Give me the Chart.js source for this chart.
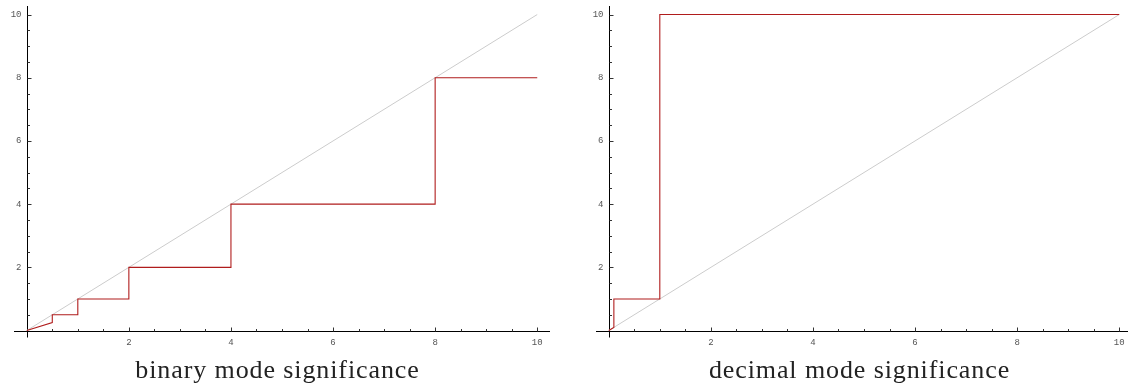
<!DOCTYPE html>
<html>
<head>
<meta charset="utf-8">
<script src="https://cdn.jsdelivr.net/npm/chart.js@4/dist/chart.umd.min.js"></script>
<style>
  html, body { margin: 0; padding: 0; background: #fff; overflow: hidden; }
  body { width: 1128px; height: 387px; position: relative; }
  canvas { position: absolute; top: 0; }
  #leftChart { left: 0; }
  #rightChart { left: 582px; }
  .caption {
    position: absolute; top: 357px; width: 555px; text-align: center;
    font-family: "Liberation Serif", "DejaVu Serif", serif; font-size: 26px;
    letter-spacing: 0.9px; line-height: 26px; color: #222;
  }
</style>
</head>
<body>
<canvas id="leftChart" width="564" height="387"></canvas>
<canvas id="rightChart" width="564" height="387"></canvas>
<div class="caption" style="left:0">binary mode significance</div>
<div class="caption" style="left:582px">decimal mode significance</div>
<script>
// step curves
const binaryX = [0, 0.5, 0.5, 1, 1, 2, 2, 4, 4, 8, 8, 10];
const binaryY = [0, 0.25, 0.5, 0.5, 1, 1, 2, 2, 4, 4, 8, 8];
const decimalX = [0, 0.1, 0.1, 1, 1, 10];
const decimalY = [0, 0.1, 1, 1, 10, 10];
// reference line y = x
const diagonalX = [0, 10];
const diagonalY = [0, 10];
// axis ticks (same on both axes)
const majorTicks = [2, 4, 6, 8, 10];
const minorTicks = [0.5, 1, 1.5, 2, 2.5, 3, 3.5, 4, 4.5, 5, 5.5, 6, 6.5, 7, 7.5, 8, 8.5, 9, 9.5, 10];

const toPoints = (xs, ys) => xs.map((x, i) => ({ x: x, y: ys[i] }));

// Mathematica style axes crossing at the origin, ticks pointing inwards
const originAxes = {
    id: 'originAxes',
    beforeDatasetsDraw(chart) {
        const { ctx, chartArea, scales: { x, y } } = chart;
        const x0 = Math.round(x.getPixelForValue(0)) + 0.5;
        const y0 = Math.round(y.getPixelForValue(0)) + 0.5;
        ctx.save();
        ctx.strokeStyle = '#000';
        ctx.lineWidth = 1;
        ctx.beginPath();
        ctx.moveTo(chartArea.left, y0);
        ctx.lineTo(chartArea.right, y0);
        ctx.moveTo(x0, chartArea.top);
        ctx.lineTo(x0, chartArea.bottom);
        ctx.stroke();

        ctx.strokeStyle = '#333';
        ctx.beginPath();
        minorTicks.forEach(v => {
            const len = majorTicks.includes(v) ? 4 : 2.5;
            const px = Math.round(x.getPixelForValue(v)) + 0.5;
            ctx.moveTo(px, y0);
            ctx.lineTo(px, y0 - len);
            const py = Math.round(y.getPixelForValue(v)) + 0.5;
            ctx.moveTo(x0, py);
            ctx.lineTo(x0 + len, py);
        });
        ctx.stroke();

        ctx.fillStyle = '#555';
        ctx.font = '9px "Liberation Mono", "DejaVu Sans Mono", monospace';
        ctx.textBaseline = 'middle';
        majorTicks.forEach(v => {
            ctx.textAlign = 'center';
            ctx.fillText(String(v), x.getPixelForValue(v), y0 + 11);
            ctx.textAlign = 'right';
            ctx.fillText(String(v), x0 - 6, y.getPixelForValue(v));
        });
        ctx.restore();
    }
};

function makeChart(id, stepX, stepY) {
    return new Chart(document.getElementById(id), {
        type: 'scatter',
        data: {
            datasets: [{
                data: toPoints(stepX, stepY),
                showLine: true,
                borderColor: '#b01c1c',
                borderWidth: 1.1,
                pointRadius: 0
            }, {
                data: toPoints(diagonalX, diagonalY),
                showLine: true,
                borderColor: '#cccccc',
                borderWidth: 1,
                pointRadius: 0
            }]
        },
        options: {
            responsive: false,
            animation: false,
            layout: { padding: { left: 14, right: 14, top: 6, bottom: 49.5 } },
            plugins: { legend: { display: false }, tooltip: { enabled: false } },
            scales: {
                x: { type: 'linear', min: -0.25, max: 10.25, display: false },
                y: { type: 'linear', min: -0.22, max: 10.27, display: false }
            }
        },
        plugins: [originAxes]
    });
}

makeChart('leftChart', binaryX, binaryY);
makeChart('rightChart', decimalX, decimalY);
</script>
</body>
</html>
